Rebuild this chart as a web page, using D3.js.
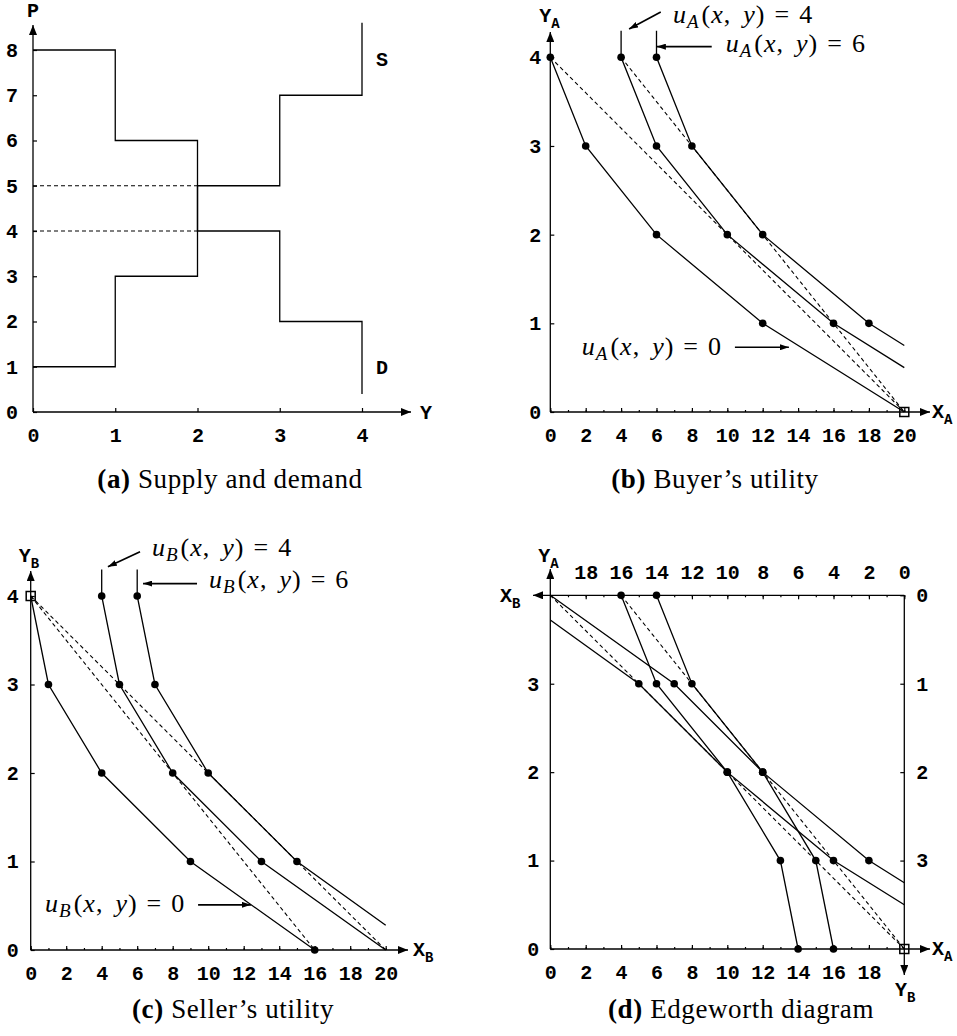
<!DOCTYPE html>
<html>
<head>
<meta charset="utf-8">
<script src="https://cdn.jsdelivr.net/npm/d3@7"></script>
<style>
  body { margin: 0; background: #fff; }
  .tick text { font-family: "Liberation Mono", monospace; font-weight: bold; font-size: 20px; fill: #000; }
  .tick line { stroke: #000; stroke-width: 1.2; }
  .axlabel { font-family: "Liberation Mono", monospace; font-weight: bold; font-size: 20px; }
  .math { font-family: "Liberation Serif", serif; font-size: 26px; letter-spacing: 1px; }
  .caption { font-family: "Liberation Serif", serif; font-size: 27px; letter-spacing: 0.6px; }
</style>
</head>
<body>
<svg id="chart" width="957" height="1036"></svg>
<script>
// (a) supply and demand
const qtyTicks = [0, 1, 2, 3, 4];
const priceTicks = [0, 1, 2, 3, 4, 5, 6, 7, 8];
const supplySteps = [[0, 1], [1, 1], [1, 3], [2, 3], [2, 5], [3, 5], [3, 7], [4, 7], [4, 8.6]];
const demandSteps = [[0, 8], [1, 8], [1, 6], [2, 6], [2, 4], [3, 4], [3, 2], [4, 2], [4, 0.4]];
const clearingPrices = [5, 4]; // dashed, from Y=0 to Y=2
const clearingQty = 2;

// goods axes (b, c, d)
const goodMinorTicks = d3.range(0, 21);
const goodMajorTicks = [0, 2, 4, 6, 8, 10, 12, 14, 16, 18, 20];
const moneyTicks = [0, 1, 2, 3, 4];

// (b) buyer A
const buyerU0 = [[0, 4], [2, 3], [6, 2], [12, 1], [20, 0]];
const buyerU4 = [[4, 4.3], [4, 4], [6, 3], [10, 2], [16, 1], [20, 0.5]];
const buyerU6 = [[6, 4.3], [6, 4], [8, 3], [12, 2], [18, 1], [20, 0.75]];
const buyerDots = [[0, 4], [2, 3], [6, 2], [12, 1], [4, 4], [6, 3], [10, 2], [16, 1], [6, 4], [8, 3], [12, 2], [18, 1]];
const buyerBudget = [[[0, 4], [20, 0]], [[4, 4], [20, 0]]];
const buyerEndowment = [20, 0];

// (c) seller B
const sellerU0 = [[0, 4], [1, 3], [4, 2], [9, 1], [16, 0]];
const sellerU4 = [[4, 4.3], [4, 4], [5, 3], [8, 2], [13, 1], [20, 0]];
const sellerU6 = [[6, 4.3], [6, 4], [7, 3], [10, 2], [15, 1], [20, 0.28]];
const sellerDots = [[1, 3], [4, 2], [9, 1], [16, 0], [4, 4], [5, 3], [8, 2], [13, 1], [6, 4], [7, 3], [10, 2], [15, 1]];
const sellerBudget = [[[0, 4], [16, 0]], [[0, 4], [20, 0]]];
const sellerEndowment = [0, 4];

// annotation spots, in data units of their panel
const buyerNotes = [
  { value: 4, at: [6.93, 4.387], from: [6.24, 4.51], to: [4.45, 4.32] },
  { value: 6, at: [9.91, 4.06], from: [9.12, 4.12], to: [6.02, 4.12] },
  { value: 0, at: [1.78, 0.64], from: [10.43, 0.73], to: [13.48, 0.73] },
];
const sellerNotes = [
  { value: 4, at: [6.83, 4.45], from: [6.16, 4.50], to: [4.35, 4.33] },
  { value: 6, at: [10.05, 4.09], from: [9.37, 4.14], to: [6.33, 4.14] },
  { value: 0, at: [0.81, 0.43], from: [9.43, 0.51], to: [12.41, 0.51] },
];

const svg = d3.select('#chart');

//MARKERS
const defs = svg.append('defs');
defs.append('marker')
  .attr('id', 'arrow')
  .attr('viewBox', '0 0 10 8')
  .attr('refX', 10).attr('refY', 4)
  .attr('markerWidth', 10).attr('markerHeight', 8)
  .attr('markerUnits', 'userSpaceOnUse')
  .attr('orient', 'auto')
  .append('path').attr('d', 'M0,0L10,4L0,8z');
defs.append('marker')
  .attr('id', 'arrowSmall')
  .attr('viewBox', '0 0 9 6')
  .attr('refX', 9).attr('refY', 3)
  .attr('markerWidth', 9).attr('markerHeight', 6)
  .attr('markerUnits', 'userSpaceOnUse')
  .attr('orient', 'auto')
  .append('path').attr('d', 'M0,0L9,3L0,6z');

//HELPERS
function scales(xDomain, xRange, yDomain, yRange) {
  return {
    x: d3.scaleLinear().domain(xDomain).range(xRange),
    y: d3.scaleLinear().domain(yDomain).range(yRange),
  };
}

function arrowLine(g, x1, y1, x2, y2, marker = 'arrow', width = 1.3) {
  g.append('line')
    .attr('x1', x1).attr('y1', y1).attr('x2', x2).attr('y2', y2)
    .attr('stroke', '#000')
    .attr('stroke-width', width)
    .attr('marker-end', marker ? `url(#${marker})` : null);
}

function curve(g, s, pts, dashed) {
  const line = d3.line().x((d) => s.x(d[0])).y((d) => s.y(d[1]));
  g.append('path')
    .attr('d', line(pts))
    .attr('fill', 'none')
    .attr('stroke', '#000')
    .attr('stroke-width', dashed ? 1.1 : 1.3)
    .attr('stroke-dasharray', dashed ? '4,3' : null);
}

function dots(g, s, pts) {
  g.selectAll(null)
    .data(pts)
    .enter()
    .append('circle')
    .attr('cx', (d) => s.x(d[0]))
    .attr('cy', (d) => s.y(d[1]))
    .attr('r', 3.8)
    .attr('fill', '#000');
}

function square(g, s, pt) {
  g.append('rect')
    .attr('x', s.x(pt[0]) - 4.5)
    .attr('y', s.y(pt[1]) - 4.5)
    .attr('width', 9)
    .attr('height', 9)
    .attr('fill', 'none')
    .attr('stroke', '#000')
    .attr('stroke-width', 1.5);
}

function axisLabel(g, main, sub, x, y) {
  const t = g.append('text').classed('axlabel', true).attr('x', x).attr('y', y);
  t.append('tspan').text(main);
  if (sub) t.append('tspan').attr('dy', 6).attr('font-size', 14).text(sub);
}

function mathLabel(g, s, sub, note) {
  const t = g.append('text')
    .classed('math', true)
    .attr('x', s.x(note.at[0]))
    .attr('y', s.y(note.at[1]));
  t.append('tspan').attr('font-style', 'italic').text('u');
  t.append('tspan').attr('font-style', 'italic').attr('font-size', 19).attr('dy', 5).text(sub);
  t.append('tspan').attr('dy', -5).attr('dx', 2).text('(');
  t.append('tspan').attr('font-style', 'italic').text('x');
  t.append('tspan').text(',');
  t.append('tspan').attr('font-style', 'italic').attr('dx', 12).text('y');
  t.append('tspan').text(')');
  t.append('tspan').attr('dx', 9).text('=');
  t.append('tspan').attr('dx', 9).text(note.value);
  arrowLine(g, s.x(note.from[0]), s.y(note.from[1]), s.x(note.to[0]), s.y(note.to[1]), 'arrowSmall', 1.7);
}

function caption(g, tag, text, x, y) {
  const t = g.append('text').classed('caption', true)
    .attr('x', x).attr('y', y).attr('text-anchor', 'middle');
  t.append('tspan').attr('font-weight', 'bold').text(`(${tag})`);
  t.append('tspan').text(' ' + text);
}

function bottomAxis(g, s, minor, major, fmt) {
  const y0 = s.y(0);
  if (minor) {
    g.append('g').attr('transform', `translate(0,${y0})`)
      .call(d3.axisBottom(s.x).tickValues(minor).tickSizeInner(-2).tickSizeOuter(0).tickFormat(''))
      .call((a) => a.select('.domain').remove());
  }
  g.append('g').attr('transform', `translate(0,${y0})`)
    .call(d3.axisBottom(s.x).tickValues(major).tickSizeInner(-4).tickSizeOuter(0).tickPadding(16).tickFormat(fmt || d3.format('d')))
    .call((a) => a.select('.domain').remove());
}

function leftAxis(g, s, values, pad) {
  g.append('g').attr('transform', `translate(${s.x(0)},0)`)
    .call(d3.axisLeft(s.y).tickValues(values).tickSizeInner(-4).tickSizeOuter(0).tickPadding(pad).tickFormat(d3.format('d')))
    .call((a) => a.select('.domain').remove());
}

//PANEL A
const gA = svg.append('g');
const sA = scales([0, 4], [33, 362], [0, 8], [412, 50]);
bottomAxis(gA, sA, null, qtyTicks);
leftAxis(gA, sA, priceTicks, 15);
arrowLine(gA, sA.x(0), sA.y(0), 411, sA.y(0));
arrowLine(gA, sA.x(0), sA.y(0), sA.x(0), 25);
clearingPrices.forEach((p) => curve(gA, sA, [[0, p], [clearingQty, p]], true));
curve(gA, sA, supplySteps);
curve(gA, sA, demandSteps);
gA.append('text').classed('axlabel', true).attr('x', sA.x(0)).attr('y', 17).attr('text-anchor', 'middle').text('P');
axisLabel(gA, 'Y', null, 420, 419);
axisLabel(gA, 'S', null, 376, 66);
axisLabel(gA, 'D', null, 376, 374);
caption(gA, 'a', 'Supply and demand', 230, 488);

//PANEL B
const gB = svg.append('g');
const sB = scales([0, 20], [550.3, 904.3], [0, 4], [412, 57.3]);
bottomAxis(gB, sB, goodMinorTicks, goodMajorTicks);
leftAxis(gB, sB, moneyTicks, 9);
arrowLine(gB, sB.x(0), sB.y(0), 930, sB.y(0));
arrowLine(gB, sB.x(0), sB.y(0), sB.x(0), 32);
buyerBudget.forEach((b) => curve(gB, sB, b, true));
[buyerU0, buyerU4, buyerU6].forEach((u) => curve(gB, sB, u));
dots(gB, sB, buyerDots);
square(gB, sB, buyerEndowment);
buyerNotes.forEach((n) => mathLabel(gB, sB, 'A', n));
axisLabel(gB, 'Y', 'A', sB.x(0) - 11, 22);
axisLabel(gB, 'X', 'A', 932, 418);
caption(gB, 'b', 'Buyer\u2019s utility', 715, 488);

//PANEL C
const gC = svg.append('g');
const sC = scales([0, 20], [30.7, 385.7], [0, 4], [950, 596]);
bottomAxis(gC, sC, goodMinorTicks, goodMajorTicks);
leftAxis(gC, sC, moneyTicks, 12);
arrowLine(gC, sC.x(0), sC.y(0), 408, sC.y(0));
arrowLine(gC, sC.x(0), sC.y(0), sC.x(0), 571);
sellerBudget.forEach((b) => curve(gC, sC, b, true));
[sellerU0, sellerU4, sellerU6].forEach((u) => curve(gC, sC, u));
dots(gC, sC, sellerDots);
square(gC, sC, sellerEndowment);
sellerNotes.forEach((n) => mathLabel(gC, sC, 'B', n));
axisLabel(gC, 'Y', 'B', sC.x(0) - 12, 562);
axisLabel(gC, 'X', 'B', 413, 956);
caption(gC, 'c', 'Seller\u2019s utility', 233, 1018);

//PANEL D (Edgeworth box, A coordinates; B flipped)
const gD = svg.append('g');
const sD = scales([0, 20], [550.3, 904.3], [0, 4], [949, 595.3]);
const toA = (p) => [20 - p[0], 4 - p[1]];
bottomAxis(gD, sD, goodMinorTicks.slice(0, 20), goodMajorTicks.slice(0, 10));
leftAxis(gD, sD, moneyTicks.slice(0, 4), 11);
// top axis: X_B
gD.append('g').attr('transform', `translate(0,${sD.y(4)})`)
  .call(d3.axisTop(sD.x).tickValues(goodMinorTicks).tickSizeInner(-2).tickSizeOuter(0).tickFormat(''))
  .call((a) => a.select('.domain').remove());
gD.append('g').attr('transform', `translate(0,${sD.y(4)})`)
  .call(d3.axisTop(sD.x).tickValues(goodMajorTicks.slice(1)).tickSizeInner(-4).tickSizeOuter(0).tickPadding(16).tickFormat((d) => 20 - d))
  .call((a) => a.select('.domain').remove());
// right axis: Y_B
gD.append('g').attr('transform', `translate(${sD.x(20)},0)`)
  .call(d3.axisRight(sD.y).tickValues(moneyTicks.slice(1)).tickSizeInner(-4).tickSizeOuter(0).tickPadding(12).tickFormat((d) => 4 - d))
  .call((a) => a.select('.domain').remove());
arrowLine(gD, sD.x(0), sD.y(0), 930, sD.y(0));
arrowLine(gD, sD.x(0), sD.y(0), sD.x(0), 569);
arrowLine(gD, sD.x(20), sD.y(4), 533, sD.y(4));
arrowLine(gD, sD.x(20), sD.y(4), sD.x(20), 975);
buyerBudget.forEach((b) => curve(gD, sD, b, true));
curve(gD, sD, buyerU4.slice(1));
curve(gD, sD, buyerU6.slice(1));
curve(gD, sD, sellerU4.slice(1).map(toA));
curve(gD, sD, sellerU6.slice(1).map(toA));
dots(gD, sD, buyerDots.slice(4));
dots(gD, sD, sellerDots.slice(4).map(toA));
square(gD, sD, buyerEndowment);
axisLabel(gD, 'Y', 'A', sD.x(0) - 12, 562);
axisLabel(gD, 'X', 'B', 500, 602);
axisLabel(gD, 'X', 'A', 932, 955);
axisLabel(gD, 'Y', 'B', 895, 996);
caption(gD, 'd', 'Edgeworth diagram', 741, 1018);
</script>
</body>
</html>
